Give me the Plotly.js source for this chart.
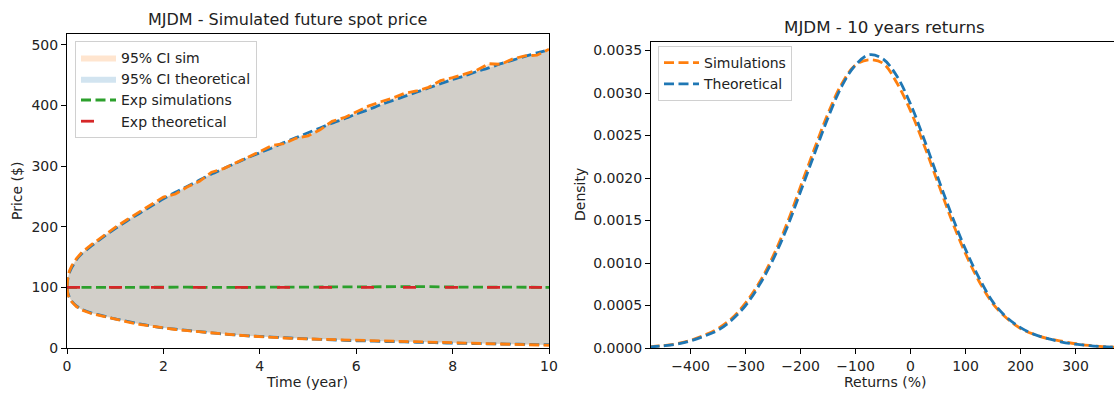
<!DOCTYPE html>
<html>
<head>
<meta charset="utf-8">
<script src="https://cdn.plot.ly/plotly-3.0.1.min.js"></script>
<style>html,body{margin:0;padding:0;background:#fff;}#chart{width:1114px;height:393px;}</style>
</head>
<body>
<div id="chart"></div>
<script>
// ---- Left panel: simulated future spot price ----
const ciTime = [0, 0.02, 0.05, 0.1, 0.2, 0.3, 0.5, 0.75, 1, 1.25, 1.5, 1.75, 2, 2.25, 2.5, 2.75, 3, 3.25, 3.5, 3.75, 4, 4.25, 4.5, 4.75, 5, 5.25, 5.5, 5.75, 6, 6.25, 6.5, 6.75, 7, 7.25, 7.5, 7.75, 8, 8.25, 8.5, 8.75, 9, 9.25, 9.5, 9.75, 10];
const simUpper = [100, 118, 127, 136, 148, 157, 170, 185, 199, 212, 224, 236, 249, 254, 266, 275, 290, 296, 305, 314, 324, 334, 337, 346, 350, 360, 374, 380, 390, 399, 406, 412, 420, 424, 430, 441, 446, 452, 458, 469, 468, 477, 482, 483, 493];
const simLower = [100, 88, 82, 76, 68, 63, 57, 52, 47, 43, 39, 36, 33, 30.5, 28.5, 26.5, 25, 23, 21.5, 20, 18.5, 17.5, 16.5, 15.5, 15, 14, 13, 12.5, 12, 11.5, 11, 10.5, 10, 9.5, 9, 8.5, 8, 7.5, 7, 6.5, 6.2, 5.8, 5.4, 5, 4.5];
const theoUpper = [100, 115, 124, 133, 146, 155, 168, 183, 197, 210, 222, 234, 246, 257, 267, 277, 287, 296, 305, 314, 322, 330, 339, 347, 355, 363, 371, 378, 386, 393, 401, 408, 415, 422, 429, 436, 443, 449, 456, 462, 469, 475, 481, 487, 492];
const theoLower = [100, 90, 84, 77, 69, 64, 58, 53, 48, 44, 40, 36, 33, 31, 29, 27, 25, 23, 21.5, 20, 19, 18, 17, 16, 15, 14.2, 13.5, 12.7, 12, 11.5, 11, 10.5, 10, 9.5, 9, 8.5, 8, 7.6, 7.2, 6.9, 6.6, 6.3, 6, 5.7, 5.5];
const expTime = [0, 0.5, 1, 1.5, 2, 2.5, 3, 3.5, 4, 4.5, 5, 5.5, 6, 6.5, 7, 7.5, 8, 8.5, 9, 9.5, 10];
const expSim = [100, 100.2, 99.8, 100.1, 100, 100.3, 99.9, 100, 100.4, 100.6, 100.3, 100.8, 101.4, 101.8, 101.9, 101.3, 100.6, 100.2, 100, 100.3, 100.1];
const expTheoTime = [0, 10];
const expTheo = [100, 100];

// ---- Right panel: 10 years returns density ----
const returnsPct = [-475, -450, -425, -400, -375, -350, -325, -300, -275, -250, -225, -200, -175, -150, -125, -100, -75, -50, -25, 0, 25, 50, 75, 100, 125, 150, 175, 200, 225, 250, 275, 300, 325, 350, 375];
const simDensity = [0.000015, 0.000028, 0.00005, 0.00009, 0.00015, 0.00023, 0.00035, 0.00053, 0.00077, 0.00108, 0.00146, 0.0019, 0.00234, 0.00276, 0.00311, 0.00333, 0.00339, 0.00335, 0.00312, 0.00279, 0.00238, 0.00194, 0.0015, 0.00111, 0.00078, 0.00052, 0.00035, 0.00023, 0.00016, 0.00011, 0.00008, 0.00005, 0.00003, 0.000017, 0.000009];
const theoDensity = [0.000012, 0.000025, 0.000045, 0.000085, 0.00014, 0.00021, 0.00033, 0.0005, 0.00074, 0.00104, 0.00141, 0.00184, 0.00228, 0.00271, 0.00308, 0.00333, 0.00345, 0.0034, 0.0032, 0.00287, 0.00245, 0.002, 0.00156, 0.00116, 0.00082, 0.00054, 0.00036, 0.00024, 0.00016, 0.00011, 0.00007, 0.000045, 0.000027, 0.000015, 0.000008];

const ORANGE = '#ff7f0e', BLUE = '#1f77b4', GREEN = '#2ca02c', RED = '#d62728';
const DASH = '10px,4.5px';
const LW = 2.8;

const traces = [
  {x: ciTime, y: simLower, mode: 'lines', line: {width: 0, color: 'rgba(0,0,0,0)'}, showlegend: false, hoverinfo: 'skip', xaxis: 'x', yaxis: 'y'},
  {x: ciTime, y: simUpper, mode: 'lines', line: {width: 0, color: 'rgba(0,0,0,0)'}, fill: 'tonexty', fillcolor: 'rgba(255,127,14,0.2)', name: '95% CI sim', xaxis: 'x', yaxis: 'y', legend: 'legend'},
  {x: ciTime, y: theoLower, mode: 'lines', line: {width: 0, color: 'rgba(0,0,0,0)'}, showlegend: false, hoverinfo: 'skip', xaxis: 'x', yaxis: 'y'},
  {x: ciTime, y: theoUpper, mode: 'lines', line: {width: 0, color: 'rgba(0,0,0,0)'}, fill: 'tonexty', fillcolor: 'rgba(31,119,180,0.2)', name: '95% CI theoretical', xaxis: 'x', yaxis: 'y', legend: 'legend'},
  {x: ciTime, y: theoUpper, mode: 'lines', line: {color: BLUE, width: LW, dash: DASH, shape: 'spline', smoothing: 0.6}, showlegend: false, xaxis: 'x', yaxis: 'y'},
  {x: ciTime, y: theoLower, mode: 'lines', line: {color: BLUE, width: LW, dash: DASH, shape: 'spline', smoothing: 0.6}, showlegend: false, xaxis: 'x', yaxis: 'y'},
  {x: ciTime, y: simUpper, mode: 'lines', line: {color: ORANGE, width: LW, dash: DASH}, showlegend: false, xaxis: 'x', yaxis: 'y'},
  {x: ciTime, y: simLower, mode: 'lines', line: {color: ORANGE, width: LW, dash: DASH}, showlegend: false, xaxis: 'x', yaxis: 'y'},
  {x: expTime, y: expSim, mode: 'lines', line: {color: GREEN, width: LW, dash: DASH}, name: 'Exp simulations', xaxis: 'x', yaxis: 'y', legend: 'legend'},
  {x: expTheoTime, y: expTheo, mode: 'lines', line: {color: RED, width: LW, dash: '13px,29px'}, name: 'Exp theoretical', xaxis: 'x', yaxis: 'y', legend: 'legend'},
  {x: returnsPct, y: simDensity, mode: 'lines', line: {color: ORANGE, width: LW, dash: DASH, shape: 'spline', smoothing: 1}, name: 'Simulations', xaxis: 'x2', yaxis: 'y2', legend: 'legend2'},
  {x: returnsPct, y: theoDensity, mode: 'lines', line: {color: BLUE, width: LW, dash: DASH, shape: 'spline', smoothing: 1}, name: 'Theoretical', xaxis: 'x2', yaxis: 'y2', legend: 'legend2'}
];

const W = 1114, H = 393;
const px = v => v / W;
const py = v => (H - v) / H;

const axisCommon = {
  ticks: 'outside', ticklen: 5, tickwidth: 1, tickcolor: '#000',
  showline: true, linecolor: '#000', linewidth: 1, mirror: true,
  showgrid: false, zeroline: false, automargin: false,
  tickfont: {family: 'DejaVu Sans', size: 14, color: '#222'}
};

const legendCommon = {xanchor: 'left', yanchor: 'top', traceorder: 'normal', itemwidth: 35, bgcolor: 'rgba(255,255,255,0.8)', bordercolor: '#d0d0d0', borderwidth: 1, font: {size: 14, color: '#222'}, tracegroupgap: 0};

const layout = {
  width: W, height: H,
  margin: {l: 0, r: 0, t: 0, b: 0, pad: 0},
  paper_bgcolor: '#fff', plot_bgcolor: '#fff',
  font: {family: 'DejaVu Sans', size: 14, color: '#222'},
  xaxis: Object.assign({}, axisCommon, {domain: [px(67), px(549)], range: [0, 10], tick0: 0, dtick: 2, anchor: 'y'}),
  yaxis: Object.assign({}, axisCommon, {domain: [py(348), py(34)], range: [0, 518], tick0: 0, dtick: 100, anchor: 'x'}),
  xaxis2: Object.assign({}, axisCommon, {domain: [px(651), 1], range: [-472, 370], tick0: 0, dtick: 100, anchor: 'y2'}),
  yaxis2: Object.assign({}, axisCommon, {domain: [py(348), py(42)], range: [0, 0.0036], tick0: 0, dtick: 0.0005, tickformat: '.4f', anchor: 'x2'}),
  legend: Object.assign({}, legendCommon, {x: px(75), y: py(41)}),
  legend2: Object.assign({}, legendCommon, {x: px(658), y: py(46)}),
  showlegend: true,
  annotations: [
    {text: 'MJDM - Simulated future spot price', x: px(287), y: py(19), xref: 'paper', yref: 'paper', xanchor: 'center', yanchor: 'middle', showarrow: false, font: {size: 16, color: '#222'}},
    {text: 'MJDM - 10 years returns', x: px(884), y: py(27), xref: 'paper', yref: 'paper', xanchor: 'center', yanchor: 'middle', showarrow: false, font: {size: 16.7, color: '#222'}},
    {text: 'Time (year)', x: px(307), y: py(382), xref: 'paper', yref: 'paper', xanchor: 'center', yanchor: 'middle', showarrow: false, font: {size: 14, color: '#222'}},
    {text: 'Returns (%)', x: px(885), y: py(382), xref: 'paper', yref: 'paper', xanchor: 'center', yanchor: 'middle', showarrow: false, font: {size: 14, color: '#222'}},
    {text: 'Price ($)', x: px(17), y: py(191), xref: 'paper', yref: 'paper', xanchor: 'center', yanchor: 'middle', textangle: -90, showarrow: false, font: {size: 14, color: '#222'}},
    {text: 'Density', x: px(580), y: py(195), xref: 'paper', yref: 'paper', xanchor: 'center', yanchor: 'middle', textangle: -90, showarrow: false, font: {size: 14, color: '#222'}}
  ]
};

Plotly.newPlot('chart', traces, layout, {displayModeBar: false, staticPlot: true});
</script>
</body>
</html>
